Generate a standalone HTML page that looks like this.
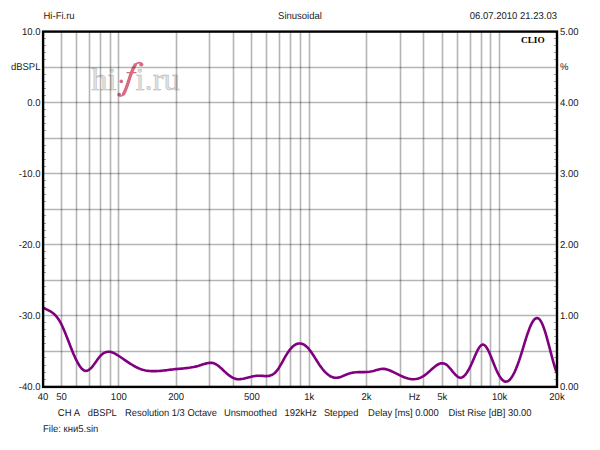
<!DOCTYPE html>
<html><head><meta charset="utf-8"><style>
html,body{margin:0;padding:0;background:#fff;}
body{width:600px;height:450px;overflow:hidden;}
svg{display:block;}
.t text{font-family:"Liberation Sans",sans-serif;font-size:9.9px;fill:#1a1a1a;text-rendering:geometricPrecision;}
</style></head><body>
<svg width="600" height="450" viewBox="0 0 600 450">
<rect width="600" height="450" fill="#fff"/>
<g font-family="Liberation Serif, serif" font-size="32.5" fill="#e0e0e0" stroke="#b2b2b2" stroke-width="0.45">
<text x="91.3" y="90.2">hi</text>
<text x="135.6" y="90.2">i.ru</text>
</g>
<g fill="none" stroke="#d86a80" stroke-linecap="round">
<path d="M118.8,95.2 C120.5,96.8 122.5,96 124,93.5 C126.5,89 128.5,81 131,74 C133,68 135.5,62.5 139,62.6 C140.5,62.7 141.5,63.5 141.5,64.5" stroke-width="1.6"/>
<path d="M123.6,93.8 C126.3,89.5 128.3,81.5 130.6,75 C132.2,70.2 133.8,67 135.3,64.8" stroke-width="3.3"/>
<path d="M127,72.6 L136,72.6" stroke-width="1.4"/>
</g>
<g fill="#d86a80">
<circle cx="119.2" cy="94.6" r="1.9"/>
<circle cx="141.3" cy="64.5" r="2.1"/>
<circle cx="121.3" cy="81.4" r="1.8"/>
</g>
<g stroke="#000" stroke-opacity="0.29" stroke-width="1.6">
<line x1="61.5" y1="31.5" x2="61.5" y2="386.3"/><line x1="76.5" y1="31.5" x2="76.5" y2="386.3"/><line x1="89.5" y1="31.5" x2="89.5" y2="386.3"/><line x1="100.5" y1="31.5" x2="100.5" y2="386.3"/><line x1="110.5" y1="31.5" x2="110.5" y2="386.3"/><line x1="118.5" y1="31.5" x2="118.5" y2="386.3"/><line x1="176.5" y1="31.5" x2="176.5" y2="386.3"/><line x1="209.5" y1="31.5" x2="209.5" y2="386.3"/><line x1="233.5" y1="31.5" x2="233.5" y2="386.3"/><line x1="251.5" y1="31.5" x2="251.5" y2="386.3"/><line x1="266.5" y1="31.5" x2="266.5" y2="386.3"/><line x1="279.5" y1="31.5" x2="279.5" y2="386.3"/><line x1="290.5" y1="31.5" x2="290.5" y2="386.3"/><line x1="300.5" y1="31.5" x2="300.5" y2="386.3"/><line x1="309.5" y1="31.5" x2="309.5" y2="386.3"/><line x1="366.5" y1="31.5" x2="366.5" y2="386.3"/><line x1="400.5" y1="31.5" x2="400.5" y2="386.3"/><line x1="423.5" y1="31.5" x2="423.5" y2="386.3"/><line x1="442.5" y1="31.5" x2="442.5" y2="386.3"/><line x1="457.5" y1="31.5" x2="457.5" y2="386.3"/><line x1="470.5" y1="31.5" x2="470.5" y2="386.3"/><line x1="481.5" y1="31.5" x2="481.5" y2="386.3"/><line x1="490.5" y1="31.5" x2="490.5" y2="386.3"/><line x1="499.5" y1="31.5" x2="499.5" y2="386.3"/><line x1="43.0" y1="67.5" x2="557.0" y2="67.5"/><line x1="43.0" y1="102.5" x2="557.0" y2="102.5"/><line x1="43.0" y1="138.5" x2="557.0" y2="138.5"/><line x1="43.0" y1="173.5" x2="557.0" y2="173.5"/><line x1="43.0" y1="209.5" x2="557.0" y2="209.5"/><line x1="43.0" y1="244.5" x2="557.0" y2="244.5"/><line x1="43.0" y1="280.5" x2="557.0" y2="280.5"/><line x1="43.0" y1="315.5" x2="557.0" y2="315.5"/><line x1="43.0" y1="351.5" x2="557.0" y2="351.5"/>
</g>
<g stroke="#a0a0a0" stroke-width="1" shape-rendering="crispEdges">
<line x1="43.0" y1="38.5" x2="45.8" y2="38.5"/><line x1="554.2" y1="38.5" x2="557.0" y2="38.5"/><line x1="43.0" y1="45.5" x2="45.8" y2="45.5"/><line x1="554.2" y1="45.5" x2="557.0" y2="45.5"/><line x1="43.0" y1="52.5" x2="45.8" y2="52.5"/><line x1="554.2" y1="52.5" x2="557.0" y2="52.5"/><line x1="43.0" y1="59.5" x2="45.8" y2="59.5"/><line x1="554.2" y1="59.5" x2="557.0" y2="59.5"/><line x1="43.0" y1="74.5" x2="45.8" y2="74.5"/><line x1="554.2" y1="74.5" x2="557.0" y2="74.5"/><line x1="43.0" y1="81.5" x2="45.8" y2="81.5"/><line x1="554.2" y1="81.5" x2="557.0" y2="81.5"/><line x1="43.0" y1="88.5" x2="45.8" y2="88.5"/><line x1="554.2" y1="88.5" x2="557.0" y2="88.5"/><line x1="43.0" y1="95.5" x2="45.8" y2="95.5"/><line x1="554.2" y1="95.5" x2="557.0" y2="95.5"/><line x1="43.0" y1="109.5" x2="45.8" y2="109.5"/><line x1="554.2" y1="109.5" x2="557.0" y2="109.5"/><line x1="43.0" y1="116.5" x2="45.8" y2="116.5"/><line x1="554.2" y1="116.5" x2="557.0" y2="116.5"/><line x1="43.0" y1="123.5" x2="45.8" y2="123.5"/><line x1="554.2" y1="123.5" x2="557.0" y2="123.5"/><line x1="43.0" y1="130.5" x2="45.8" y2="130.5"/><line x1="554.2" y1="130.5" x2="557.0" y2="130.5"/><line x1="43.0" y1="145.5" x2="45.8" y2="145.5"/><line x1="554.2" y1="145.5" x2="557.0" y2="145.5"/><line x1="43.0" y1="152.5" x2="45.8" y2="152.5"/><line x1="554.2" y1="152.5" x2="557.0" y2="152.5"/><line x1="43.0" y1="159.5" x2="45.8" y2="159.5"/><line x1="554.2" y1="159.5" x2="557.0" y2="159.5"/><line x1="43.0" y1="166.5" x2="45.8" y2="166.5"/><line x1="554.2" y1="166.5" x2="557.0" y2="166.5"/><line x1="43.0" y1="180.5" x2="45.8" y2="180.5"/><line x1="554.2" y1="180.5" x2="557.0" y2="180.5"/><line x1="43.0" y1="187.5" x2="45.8" y2="187.5"/><line x1="554.2" y1="187.5" x2="557.0" y2="187.5"/><line x1="43.0" y1="194.5" x2="45.8" y2="194.5"/><line x1="554.2" y1="194.5" x2="557.0" y2="194.5"/><line x1="43.0" y1="201.5" x2="45.8" y2="201.5"/><line x1="554.2" y1="201.5" x2="557.0" y2="201.5"/><line x1="43.0" y1="215.5" x2="45.8" y2="215.5"/><line x1="554.2" y1="215.5" x2="557.0" y2="215.5"/><line x1="43.0" y1="223.5" x2="45.8" y2="223.5"/><line x1="554.2" y1="223.5" x2="557.0" y2="223.5"/><line x1="43.0" y1="230.5" x2="45.8" y2="230.5"/><line x1="554.2" y1="230.5" x2="557.0" y2="230.5"/><line x1="43.0" y1="237.5" x2="45.8" y2="237.5"/><line x1="554.2" y1="237.5" x2="557.0" y2="237.5"/><line x1="43.0" y1="251.5" x2="45.8" y2="251.5"/><line x1="554.2" y1="251.5" x2="557.0" y2="251.5"/><line x1="43.0" y1="258.5" x2="45.8" y2="258.5"/><line x1="554.2" y1="258.5" x2="557.0" y2="258.5"/><line x1="43.0" y1="265.5" x2="45.8" y2="265.5"/><line x1="554.2" y1="265.5" x2="557.0" y2="265.5"/><line x1="43.0" y1="272.5" x2="45.8" y2="272.5"/><line x1="554.2" y1="272.5" x2="557.0" y2="272.5"/><line x1="43.0" y1="286.5" x2="45.8" y2="286.5"/><line x1="554.2" y1="286.5" x2="557.0" y2="286.5"/><line x1="43.0" y1="294.5" x2="45.8" y2="294.5"/><line x1="554.2" y1="294.5" x2="557.0" y2="294.5"/><line x1="43.0" y1="301.5" x2="45.8" y2="301.5"/><line x1="554.2" y1="301.5" x2="557.0" y2="301.5"/><line x1="43.0" y1="308.5" x2="45.8" y2="308.5"/><line x1="554.2" y1="308.5" x2="557.0" y2="308.5"/><line x1="43.0" y1="322.5" x2="45.8" y2="322.5"/><line x1="554.2" y1="322.5" x2="557.0" y2="322.5"/><line x1="43.0" y1="329.5" x2="45.8" y2="329.5"/><line x1="554.2" y1="329.5" x2="557.0" y2="329.5"/><line x1="43.0" y1="336.5" x2="45.8" y2="336.5"/><line x1="554.2" y1="336.5" x2="557.0" y2="336.5"/><line x1="43.0" y1="343.5" x2="45.8" y2="343.5"/><line x1="554.2" y1="343.5" x2="557.0" y2="343.5"/><line x1="43.0" y1="357.5" x2="45.8" y2="357.5"/><line x1="554.2" y1="357.5" x2="557.0" y2="357.5"/><line x1="43.0" y1="365.5" x2="45.8" y2="365.5"/><line x1="554.2" y1="365.5" x2="557.0" y2="365.5"/><line x1="43.0" y1="372.5" x2="45.8" y2="372.5"/><line x1="554.2" y1="372.5" x2="557.0" y2="372.5"/><line x1="43.0" y1="379.5" x2="45.8" y2="379.5"/><line x1="554.2" y1="379.5" x2="557.0" y2="379.5"/>
</g>
<path d="M43.5,307.75 L45.0,308.55 L46.5,309.31 L48.0,310.05 L49.5,310.85 L51.0,311.73 L52.5,312.76 L54.0,313.97 L55.5,315.42 L57.0,317.15 L58.5,319.21 L60.0,321.65 L61.5,324.50 L63.0,327.70 L64.5,331.18 L66.0,334.87 L67.5,338.70 L69.0,342.59 L70.5,346.47 L72.0,350.27 L73.5,353.91 L75.0,357.33 L76.5,360.48 L78.0,363.30 L79.5,365.76 L81.0,367.79 L82.5,369.35 L84.0,370.39 L85.5,370.86 L87.0,370.75 L88.5,370.12 L90.0,369.04 L91.5,367.59 L93.0,365.84 L94.5,363.84 L96.0,361.71 L97.5,359.56 L99.0,357.53 L100.5,355.76 L102.0,354.31 L103.5,353.20 L105.0,352.40 L106.5,351.92 L108.0,351.71 L109.5,351.76 L111.0,352.04 L112.5,352.51 L114.0,353.15 L115.5,353.92 L117.0,354.79 L118.5,355.75 L120.0,356.75 L121.5,357.77 L123.0,358.80 L124.5,359.84 L126.0,360.87 L127.5,361.88 L129.0,362.88 L130.5,363.84 L132.0,364.77 L133.5,365.66 L135.0,366.50 L136.5,367.28 L138.0,367.99 L139.5,368.63 L141.0,369.19 L142.5,369.67 L144.0,370.08 L145.5,370.41 L147.0,370.68 L148.5,370.88 L150.0,371.03 L151.5,371.12 L153.0,371.17 L154.5,371.17 L156.0,371.14 L157.5,371.07 L159.0,370.96 L160.5,370.84 L162.0,370.69 L163.5,370.53 L165.0,370.35 L166.5,370.17 L168.0,369.98 L169.5,369.80 L171.0,369.62 L172.5,369.46 L174.0,369.31 L175.5,369.16 L177.0,369.03 L178.5,368.89 L180.0,368.76 L181.5,368.62 L183.0,368.48 L184.5,368.33 L186.0,368.16 L187.5,367.98 L189.0,367.78 L190.5,367.56 L192.0,367.30 L193.5,367.03 L195.0,366.71 L196.5,366.36 L198.0,365.98 L199.5,365.55 L201.0,365.07 L202.5,364.58 L204.0,364.08 L205.5,363.63 L207.0,363.25 L208.5,362.97 L210.0,362.83 L211.5,362.86 L213.0,363.09 L214.5,363.55 L216.0,364.27 L217.5,365.23 L219.0,366.38 L220.5,367.66 L222.0,369.04 L223.5,370.44 L225.0,371.84 L226.5,373.19 L228.0,374.48 L229.5,375.67 L231.0,376.73 L232.5,377.63 L234.0,378.35 L235.5,378.85 L237.0,379.13 L238.5,379.22 L240.0,379.16 L241.5,378.98 L243.0,378.72 L244.5,378.40 L246.0,378.05 L247.5,377.67 L249.0,377.29 L250.5,376.92 L252.0,376.57 L253.5,376.26 L255.0,376.00 L256.5,375.81 L258.0,375.70 L259.5,375.68 L261.0,375.76 L262.5,375.88 L264.0,376.00 L265.5,376.08 L267.0,376.08 L268.5,375.94 L270.0,375.63 L271.5,375.10 L273.0,374.31 L274.5,373.22 L276.0,371.77 L277.5,369.92 L279.0,367.70 L280.5,365.20 L282.0,362.54 L283.5,359.82 L285.0,357.16 L286.5,354.63 L288.0,352.28 L289.5,350.15 L291.0,348.31 L292.5,346.76 L294.0,345.50 L295.5,344.54 L297.0,343.88 L298.5,343.51 L300.0,343.44 L301.5,343.66 L303.0,344.17 L304.5,344.98 L306.0,346.09 L307.5,347.48 L309.0,349.17 L310.5,351.12 L312.0,353.26 L313.5,355.55 L315.0,357.91 L316.5,360.31 L318.0,362.67 L319.5,364.94 L321.0,367.07 L322.5,369.03 L324.0,370.81 L325.5,372.41 L327.0,373.81 L328.5,375.02 L330.0,376.02 L331.5,376.80 L333.0,377.36 L334.5,377.70 L336.0,377.80 L337.5,377.68 L339.0,377.39 L340.5,376.96 L342.0,376.42 L343.5,375.81 L345.0,375.16 L346.5,374.52 L348.0,373.91 L349.5,373.38 L351.0,372.96 L352.5,372.65 L354.0,372.43 L355.5,372.29 L357.0,372.21 L358.5,372.17 L360.0,372.16 L361.5,372.16 L363.0,372.16 L364.5,372.13 L366.0,372.06 L367.5,371.95 L369.0,371.79 L370.5,371.57 L372.0,371.29 L373.5,370.95 L375.0,370.55 L376.5,370.11 L378.0,369.67 L379.5,369.29 L381.0,369.01 L382.5,368.86 L384.0,368.90 L385.5,369.12 L387.0,369.49 L388.5,369.98 L390.0,370.56 L391.5,371.20 L393.0,371.89 L394.5,372.62 L396.0,373.36 L397.5,374.12 L399.0,374.87 L400.5,375.59 L402.0,376.29 L403.5,376.95 L405.0,377.54 L406.5,378.06 L408.0,378.50 L409.5,378.85 L411.0,379.08 L412.5,379.19 L414.0,379.19 L415.5,379.06 L417.0,378.79 L418.5,378.40 L420.0,377.87 L421.5,377.19 L423.0,376.37 L424.5,375.40 L426.0,374.28 L427.5,373.04 L429.0,371.71 L430.5,370.34 L432.0,368.98 L433.5,367.66 L435.0,366.44 L436.5,365.35 L438.0,364.45 L439.5,363.76 L441.0,363.34 L442.5,363.23 L444.0,363.47 L445.5,364.12 L447.0,365.18 L448.5,366.61 L450.0,368.29 L451.5,370.11 L453.0,371.95 L454.5,373.72 L456.0,375.29 L457.5,376.55 L459.0,377.40 L460.5,377.73 L462.0,377.44 L463.5,376.54 L465.0,375.10 L466.5,373.18 L468.0,370.82 L469.5,368.10 L471.0,365.06 L472.5,361.76 L474.0,358.27 L475.5,354.78 L477.0,351.48 L478.5,348.62 L480.0,346.39 L481.5,345.01 L483.0,344.57 L484.5,345.11 L486.0,346.63 L487.5,348.99 L489.0,352.00 L490.5,355.47 L492.0,359.23 L493.5,363.07 L495.0,366.83 L496.5,370.31 L498.0,373.42 L499.5,376.11 L501.0,378.32 L502.5,380.02 L504.0,381.15 L505.5,381.67 L507.0,381.55 L508.5,380.81 L510.0,379.46 L511.5,377.56 L513.0,375.14 L514.5,372.22 L516.0,368.85 L517.5,365.05 L519.0,360.87 L520.5,356.34 L522.0,351.54 L523.5,346.62 L525.0,341.71 L526.5,336.94 L528.0,332.45 L529.5,328.36 L531.0,324.81 L532.5,321.93 L534.0,319.78 L535.5,318.44 L537.0,317.97 L538.5,318.42 L540.0,319.87 L541.5,322.33 L543.0,325.72 L544.5,329.89 L546.0,334.71 L547.5,340.03 L549.0,345.67 L550.5,351.45 L552.0,357.17 L553.5,362.65 L555.0,367.71 L556.5,372.14" fill="none" stroke="#800080" stroke-width="2.6" stroke-linejoin="round" stroke-linecap="round"/>
<rect x="43.1" y="31.6" width="513.9" height="355.3" fill="none" stroke="#000" stroke-width="2.4"/>
<text x="521" y="43" font-family="Liberation Serif, serif" font-weight="bold" font-size="9" textLength="23.6" lengthAdjust="spacingAndGlyphs" text-rendering="geometricPrecision">CLIO</text>
<g class="t">
<text x="43.5" y="19" text-anchor="start" textLength="31.14" lengthAdjust="spacingAndGlyphs">Hi-Fi.ru</text><text x="300" y="19" text-anchor="middle" textLength="43.84" lengthAdjust="spacingAndGlyphs">Sinusoidal</text><text x="557" y="19" text-anchor="end" textLength="87.17" lengthAdjust="spacingAndGlyphs">06.07.2010 21.23.03</text><text x="40.5" y="34.8" text-anchor="end" textLength="18.5" lengthAdjust="spacingAndGlyphs">10.0</text><text x="560" y="34.8" text-anchor="start" textLength="18.5" lengthAdjust="spacingAndGlyphs">5.00</text><text x="40.5" y="70.3" text-anchor="end" textLength="29.58" lengthAdjust="spacingAndGlyphs">dBSPL</text><text x="560" y="70.3" text-anchor="start" textLength="8.45" lengthAdjust="spacingAndGlyphs">%</text><text x="40.5" y="105.8" text-anchor="end" textLength="13.22" lengthAdjust="spacingAndGlyphs">0.0</text><text x="560" y="105.8" text-anchor="start" textLength="18.5" lengthAdjust="spacingAndGlyphs">4.00</text><text x="40.5" y="176.7" text-anchor="end" textLength="21.66" lengthAdjust="spacingAndGlyphs">-10.0</text><text x="560" y="176.7" text-anchor="start" textLength="18.5" lengthAdjust="spacingAndGlyphs">3.00</text><text x="40.5" y="247.7" text-anchor="end" textLength="21.66" lengthAdjust="spacingAndGlyphs">-20.0</text><text x="560" y="247.7" text-anchor="start" textLength="18.5" lengthAdjust="spacingAndGlyphs">2.00</text><text x="40.5" y="318.6" text-anchor="end" textLength="21.66" lengthAdjust="spacingAndGlyphs">-30.0</text><text x="560" y="318.6" text-anchor="start" textLength="18.5" lengthAdjust="spacingAndGlyphs">1.00</text><text x="40.5" y="389.6" text-anchor="end" textLength="21.66" lengthAdjust="spacingAndGlyphs">-40.0</text><text x="560" y="389.6" text-anchor="start" textLength="18.5" lengthAdjust="spacingAndGlyphs">0.00</text><text x="43.0" y="400.4" text-anchor="middle" textLength="10.58" lengthAdjust="spacingAndGlyphs">40</text><text x="61.5" y="400.4" text-anchor="middle" textLength="10.58" lengthAdjust="spacingAndGlyphs">50</text><text x="118.8" y="400.4" text-anchor="middle" textLength="15.86" lengthAdjust="spacingAndGlyphs">100</text><text x="176.1" y="400.4" text-anchor="middle" textLength="15.86" lengthAdjust="spacingAndGlyphs">200</text><text x="251.9" y="400.4" text-anchor="middle" textLength="15.86" lengthAdjust="spacingAndGlyphs">500</text><text x="309.2" y="400.4" text-anchor="middle" textLength="10.05" lengthAdjust="spacingAndGlyphs">1k</text><text x="366.6" y="400.4" text-anchor="middle" textLength="10.05" lengthAdjust="spacingAndGlyphs">2k</text><text x="442.3" y="400.4" text-anchor="middle" textLength="10.05" lengthAdjust="spacingAndGlyphs">5k</text><text x="499.7" y="400.4" text-anchor="middle" textLength="15.33" lengthAdjust="spacingAndGlyphs">10k</text><text x="557.0" y="400.4" text-anchor="middle" textLength="15.33" lengthAdjust="spacingAndGlyphs">20k</text><text x="414.5" y="400.4" text-anchor="middle" textLength="11.63" lengthAdjust="spacingAndGlyphs">Hz</text><text x="57.8" y="416.1" text-anchor="start" textLength="22.19" lengthAdjust="spacingAndGlyphs">CH A</text><text x="87.8" y="416.1" text-anchor="start" textLength="29.0" lengthAdjust="spacingAndGlyphs">dBSPL</text><text x="125.1" y="416.1" text-anchor="start" textLength="91.9" lengthAdjust="spacingAndGlyphs">Resolution 1/3 Octave</text><text x="223.9" y="416.1" text-anchor="start" textLength="53.1" lengthAdjust="spacingAndGlyphs">Unsmoothed</text><text x="284.5" y="416.1" text-anchor="start" textLength="32.22" lengthAdjust="spacingAndGlyphs">192kHz</text><text x="323.9" y="416.1" text-anchor="start" textLength="34.4" lengthAdjust="spacingAndGlyphs">Stepped</text><text x="368.1" y="416.1" text-anchor="start" textLength="70.7" lengthAdjust="spacingAndGlyphs">Delay [ms] 0.000</text><text x="448.5" y="416.1" text-anchor="start" textLength="83.0" lengthAdjust="spacingAndGlyphs">Dist Rise [dB] 30.00</text><text x="43" y="432.1" text-anchor="start" textLength="55.38" lengthAdjust="spacingAndGlyphs">File: кни5.sin</text>
</g>
</svg>
</body></html>
